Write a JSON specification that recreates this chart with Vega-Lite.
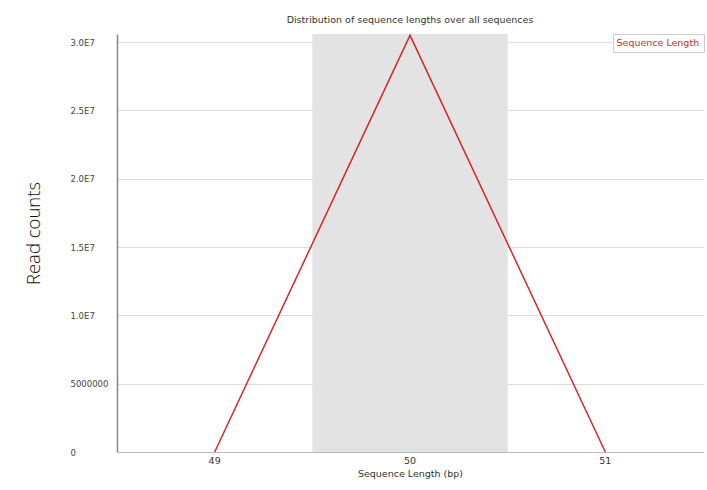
{
  "$schema": "https://vega.github.io/schema/vega-lite/v6.json",
  "width": 586,
  "height": 418,
  "autosize": {"type": "none"},
  "padding": {"left": 117, "top": 34, "right": 4, "bottom": 38},
  "background": "white",
  "config": {
    "view": {"stroke": null},
    "font": "DejaVu Sans"
  },
  "title": {
    "text": "Distribution of sequence lengths over all sequences",
    "fontSize": 9.5,
    "fontWeight": "normal",
    "color": "#333",
    "anchor": "middle",
    "offset": 8
  },
  "data": {
    "values": [
      {"len": "49", "count": 0, "series": "Sequence Length"},
      {"len": "50", "count": 30500000, "series": "Sequence Length"},
      {"len": "51", "count": 0, "series": "Sequence Length"}
    ]
  },
  "encoding": {
    "x": {
      "field": "len",
      "type": "ordinal",
      "scale": {"type": "band", "paddingInner": 0, "paddingOuter": 0},
      "axis": {
        "title": "Sequence Length (bp)",
        "titleFontSize": 9.5,
        "titleFontWeight": "normal",
        "titleColor": "#333",
        "titlePadding": 4,
        "labelAngle": 0,
        "labelFontSize": 9.5,
        "labelColor": "#333",
        "labelPadding": 3,
        "ticks": false,
        "domainColor": "#bbb",
        "grid": false
      }
    }
  },
  "layer": [
    {
      "transform": [{"filter": "datum.len == '50'"}],
      "mark": {"type": "rect", "color": "#e3e3e3"},
      "encoding": {}
    },
    {
      "mark": {"type": "line", "strokeWidth": 1.5},
      "encoding": {
        "y": {
          "field": "count",
          "type": "quantitative",
          "scale": {"domain": [0, 30600000], "nice": false},
          "axis": {
            "values": [0, 5000000, 10000000, 15000000, 20000000, 25000000, 30000000],
            "labelExpr": "datum.value == 0 ? '0' : datum.value == 5000000 ? '5000000' : format(datum.value / 10000000, '.1f') + 'E7'",
            "labelAlign": "left",
            "labelPadding": 47,
            "labelFontSize": 8.5,
            "labelColor": "#444",
            "ticks": false,
            "domainColor": "#888",
            "domainWidth": 1.5,
            "gridColor": "#ddd",
            "gridWidth": 1.2,
            "title": "Read counts",
            "titleFontSize": 18.5,
            "titleFontWeight": 300,
            "titleFont": "Open Sans",
            "titleColor": "#111",
            "titleAngle": -90,
            "titleX": -84,
            "titleY": 199,
            "titleAlign": "center",
            "titleBaseline": "middle"
          }
        },
        "color": {
          "field": "series",
          "type": "nominal",
          "scale": {"range": ["#d9262b"]},
          "legend": {
            "title": null,
            "orient": "none",
            "legendX": 496,
            "legendY": 0,
            "padding": 4,
            "strokeColor": "#ccc",
            "fillColor": "white",
            "labelColor": "#e02828",
            "labelFontSize": 9.5,
            "labelLimit": 200,
            "symbolType": "circle",
            "symbolSize": 0,
            "symbolOpacity": 0,
            "symbolStrokeWidth": 0,
            "labelOffset": -10
          }
        }
      }
    }
  ]
}
